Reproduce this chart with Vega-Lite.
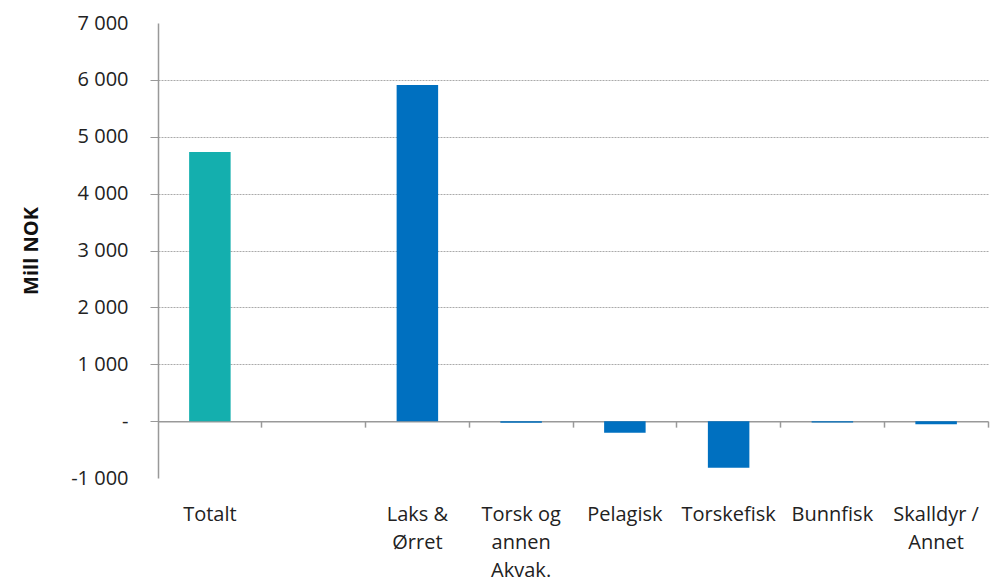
{
  "$schema": "https://vega.github.io/schema/vega-lite/v6.json",
  "width": 830,
  "height": 455,
  "autosize": "none",
  "padding": {"left": 158, "top": 23, "right": 12, "bottom": 106},
  "background": "white",
  "config": {"view": {"stroke": null}, "font": "Open Sans"},
  "data": {
    "values": [
      {"kategori": "Totalt", "verdi": 4730, "gruppe": "Totalt"},
      {"kategori": "tom", "verdi": 0, "gruppe": "Art"},
      {"kategori": "Laks &|Ørret", "verdi": 5910, "gruppe": "Art"},
      {"kategori": "Torsk og|annen|Akvak.", "verdi": -30, "gruppe": "Art"},
      {"kategori": "Pelagisk", "verdi": -205, "gruppe": "Art"},
      {"kategori": "Torskefisk", "verdi": -820, "gruppe": "Art"},
      {"kategori": "Bunnfisk", "verdi": -25, "gruppe": "Art"},
      {"kategori": "Skalldyr /|Annet", "verdi": -55, "gruppe": "Art"}
    ]
  },
  "resolve": {"axis": {"x": "independent"}},
  "layer": [
    {
      "mark": {"type": "bar", "width": {"band": 0.4}},
      "encoding": {
        "x": {
          "field": "kategori",
          "type": "nominal",
          "sort": null,
          "scale": {
            "domain": ["Totalt", "tom", "Laks &|Ørret", "Torsk og|annen|Akvak.", "Pelagisk", "Torskefisk", "Bunnfisk", "Skalldyr /|Annet"],
            "paddingInner": 0,
            "paddingOuter": 0
          },
          "axis": {
            "orient": "bottom",
            "title": null,
            "domain": false,
            "ticks": false,
            "grid": false,
            "labelAngle": 0,
            "labelExpr": "datum.value == 'tom' ? '' : split(datum.value, '|')",
            "labelFontSize": 20,
            "labelColor": "#222",
            "labelFont": "Open Sans",
            "labelLineHeight": 28,
            "labelPadding": 26,
            "labelBaseline": "top"
          }
        },
        "y": {
          "field": "verdi",
          "type": "quantitative",
          "scale": {"domain": [-1000, 7000], "nice": false},
          "axis": {
            "title": "Mill NOK",
            "titleFont": "Open Sans",
            "titleFontSize": 20,
            "titleFontWeight": "bold",
            "titleColor": "#111",
            "titlePadding": 29,
            "values": [-1000, 0, 1000, 2000, 3000, 4000, 5000, 6000, 7000],
            "labelExpr": "datum.value == 0 ? '-' : replace(replace(format(datum.value, ','), ',', ' '), '−', '-')",
            "labelFontSize": 20,
            "labelFont": "Open Sans",
            "labelColor": "#222",
            "labelPadding": 22,
            "tickSize": 8,
            "tickColor": "#999",
            "domainColor": "#999",
            "domainWidth": 1.5,
            "grid": true,
            "gridColor": "#aaa",
            "gridDash": [2, 1],
            "gridOpacity": {"condition": {"test": "datum.value >= 7000 || datum.value <= 0", "value": 0}, "value": 1},
            "tickOpacity": {"condition": {"test": "datum.value >= 7000 || datum.value <= -1000", "value": 0}, "value": 1}
          }
        },
        "color": {
          "field": "gruppe",
          "type": "nominal",
          "scale": {"domain": ["Totalt", "Art"], "range": ["#14AFAE", "#0070C0"]},
          "legend": null
        }
      }
    },
    {
      "mark": {"type": "bar", "opacity": 0},
      "encoding": {
        "x": {
          "field": "kategori",
          "type": "nominal",
          "sort": null,
          "axis": {
            "orient": "bottom",
            "title": null,
            "labels": false,
            "domain": true,
            "domainColor": "#999",
            "domainWidth": 1.5,
            "ticks": true,
            "tickColor": "#999",
            "tickWidth": 1.5,
            "tickSize": 6,
            "bandPosition": 1,
            "grid": false,
            "offset": -56.875
          }
        },
        "y": {"field": "verdi", "type": "quantitative"}
      }
    }
  ]
}
